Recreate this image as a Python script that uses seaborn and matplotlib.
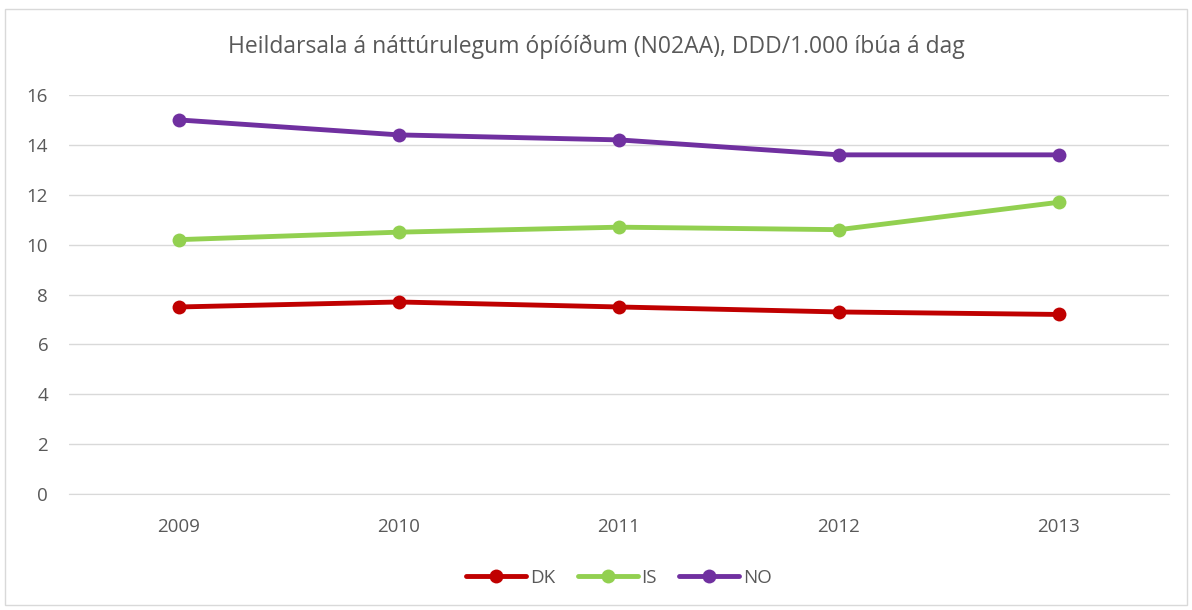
import pandas as pd
import seaborn as sns
import matplotlib.pyplot as plt
from matplotlib.patches import Rectangle

years = [2009, 2010, 2011, 2012, 2013]
dk = [7.5, 7.7, 7.5, 7.3, 7.2]
is_vals = [10.2, 10.5, 10.7, 10.6, 11.7]
no = [15.0, 14.4, 14.2, 13.6, 13.6]
series = ['DK', 'IS', 'NO']
colors = ['#C00000', '#92D050', '#7030A0']

data = pd.DataFrame({
    'year': years * 3,
    'value': dk + is_vals + no,
    'land': ['DK'] * 5 + ['IS'] * 5 + ['NO'] * 5,
})

sns.set_style('white')
plt.rcParams['font.family'] = ['Open Sans', 'DejaVu Sans']

fig = plt.figure(figsize=(11.92, 6.10), dpi=100)
ax = fig.add_axes([69 / 1192, 116 / 610, 1100 / 1192, 399 / 610])

sns.lineplot(data=data, x='year', y='value', hue='land', hue_order=series,
             palette=colors, marker='o', markersize=10, markeredgewidth=0,
             linewidth=3.5, ax=ax, legend=True)

ax.set_xlim(2008.5, 2013.5)
ax.set_ylim(0, 16)
ax.set_yticks(range(0, 17, 2))
ax.set_xticks(years)
ax.grid(axis='y', color='#D9D9D9', linewidth=1)
ax.set_axisbelow(True)
for s in ['top', 'right', 'left']:
    ax.spines[s].set_visible(False)
ax.spines['bottom'].set_color('#D9D9D9')
ax.tick_params(axis='both', length=0, labelsize=13.5, labelcolor='#595959')
ax.tick_params(axis='x', pad=17)
ax.tick_params(axis='y', pad=15)
ax.set_xlabel('')
ax.set_ylabel('')

fig.text(0.5, 1 - 47 / 610, 'Heildarsala á náttúrulegum ópíóíðum (N02AA), DDD/1.000 íbúa á dag',
         ha='center', va='center', fontsize=16.5, color='#595959')

ax.legend(loc='center', bbox_to_anchor=(0.5, -(578 - 494) / 399), ncol=3, frameon=False,
          fontsize=13.5, labelcolor='#595959', handlelength=3.2, columnspacing=1.2,
          handletextpad=0.2)

fig.patches.append(Rectangle((5 / 1192, 5 / 610), 1182 / 1192, 596 / 610,
                             transform=fig.transFigure, fill=False,
                             edgecolor='#D9D9D9', linewidth=1))

plt.savefig('out.png', dpi=100)
